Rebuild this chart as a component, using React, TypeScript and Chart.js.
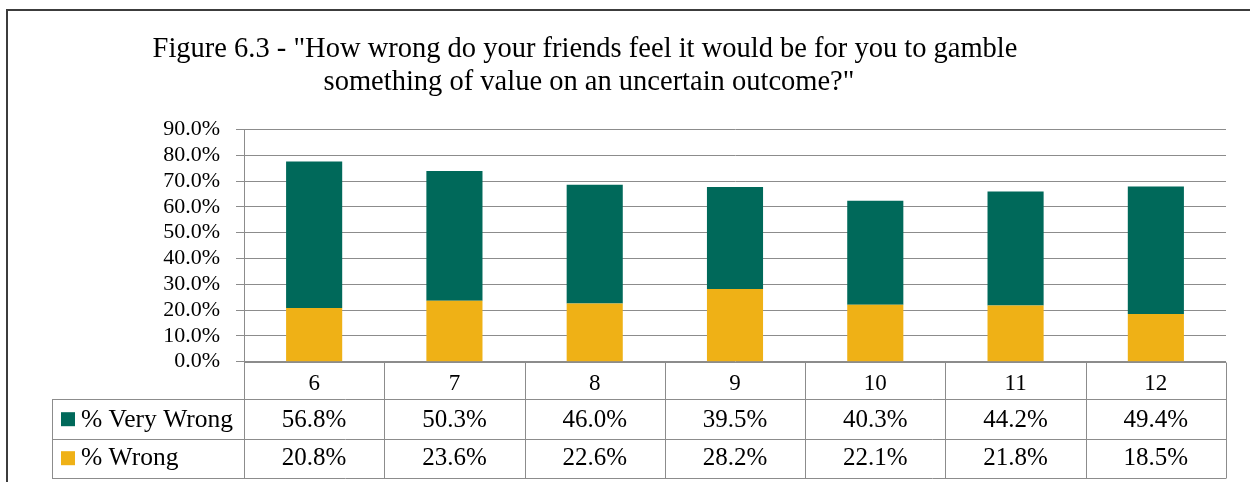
import React, { useEffect, useRef } from "react";
import { Chart, registerables } from "chart.js";

Chart.register(...registerables);

const categories = ["6", "7", "8", "9", "10", "11", "12"];
const veryWrong = [56.8, 50.3, 46.0, 39.5, 40.3, 44.2, 49.4];
const wrong = [20.8, 23.6, 22.6, 28.2, 22.1, 21.8, 18.5];
const seriesNames = ["% Very Wrong", "% Wrong"];
const titleLines = [
  'Figure 6.3 - "How wrong do your friends feel it would be for you to gamble',
  'something of value on an uncertain outcome?"',
];
const yMax = 90;
const yStep = 10;

const GREEN = "#00695A";
const GOLD = "#EFB116";
const GRID = "#8c8c8c";
const FONT = '"Liberation Serif", "Times New Roman", serif';

const fmt = (v: number) => v.toFixed(1) + "%";

const tablePlugin = {
  id: "dataTable",
  beforeDraw(chart: any) {
    const ctx = chart.ctx;
    ctx.save();
    ctx.fillStyle = "#ffffff";
    ctx.fillRect(0, 0, chart.width, chart.height);
    ctx.strokeStyle = "#3c3c3c";
    ctx.lineWidth = 2;
    ctx.beginPath();
    ctx.moveTo(7, chart.height);
    ctx.lineTo(7, 10);
    ctx.lineTo(chart.width, 10);
    ctx.stroke();
    ctx.fillStyle = "#000";
    ctx.font = "28.5px " + FONT;
    ctx.textAlign = "center";
    ctx.textBaseline = "alphabetic";
    ctx.fillText(titleLines[0], 585, 57);
    ctx.fillText(titleLines[1], 589, 90);
    ctx.restore();
  },
  afterDraw(chart: any) {
    const { ctx, chartArea, scales } = chart;
    const xs = scales.x;
    const n = categories.length;
    const colW = (chartArea.right - chartArea.left) / n;
    const top = chartArea.bottom;
    const rows = [top, top + 37.6, top + 77.3, top + 116];
    const legendLeft = 52;
    const al = (v: number) => Math.round(v) + 0.5;
    ctx.save();
    ctx.strokeStyle = GRID;
    ctx.lineWidth = 1;
    ctx.beginPath();
    ctx.moveTo(chartArea.left, al(rows[0]));
    ctx.lineTo(chartArea.right, al(rows[0]));
    for (let r = 1; r < 4; r++) {
      ctx.moveTo(legendLeft, al(rows[r]));
      ctx.lineTo(chartArea.right, al(rows[r]));
    }
    ctx.moveTo(al(legendLeft), al(rows[1]));
    ctx.lineTo(al(legendLeft), al(rows[3]));
    for (let i = 0; i <= n; i++) {
      const xx = xs.getPixelForValue(0) - colW / 2 + i * colW;
      ctx.moveTo(al(xx), al(rows[0]));
      ctx.lineTo(al(xx), al(rows[3]));
    }
    ctx.stroke();

    ctx.fillStyle = "#000";
    ctx.textAlign = "center";
    ctx.textBaseline = "alphabetic";
    ctx.font = "23px " + FONT;
    categories.forEach((c, i) => {
      ctx.fillText(c, xs.getPixelForValue(i), top + 28.5);
    });
    ctx.font = "25px " + FONT;
    veryWrong.forEach((v, i) => {
      ctx.fillText(fmt(v), xs.getPixelForValue(i), top + 65.5);
    });
    wrong.forEach((v, i) => {
      ctx.fillText(fmt(v), xs.getPixelForValue(i), top + 103.5);
    });
    // legend keys
    ctx.textAlign = "left";
    ctx.fillStyle = GREEN;
    ctx.fillRect(61, top + 50.5, 14, 14);
    ctx.fillStyle = GOLD;
    ctx.fillRect(61, top + 89.5, 14, 14);
    ctx.fillStyle = "#000";
    ctx.font = "25.5px " + FONT;
    ctx.fillText(seriesNames[0], 81, top + 65.5);
    ctx.fillText(seriesNames[1], 81, top + 103.5);
    ctx.restore();
  },
};

export default function App() {
  const ref = useRef<HTMLCanvasElement | null>(null);
  useEffect(() => {
    if (!ref.current) return;
    const chart = new Chart(ref.current, {
      type: "bar",
      data: {
        labels: categories,
        datasets: [
          {
            label: seriesNames[1],
            data: wrong,
            backgroundColor: GOLD,
            borderWidth: 0,
            barPercentage: 0.4,
            categoryPercentage: 1,
          },
          {
            label: seriesNames[0],
            data: veryWrong,
            backgroundColor: GREEN,
            borderWidth: 0,
            barPercentage: 0.4,
            categoryPercentage: 1,
          },
        ],
      },
      options: {
        responsive: false,
        maintainAspectRatio: false,
        animation: false,
        devicePixelRatio: 1,
        layout: { padding: { left: 0, right: 24, top: 129.5, bottom: 120.3 } },
        plugins: {
          legend: { display: false },
          tooltip: { enabled: false },
          title: { display: false },
        },
        scales: {
          x: {
            stacked: true,
            display: false,
            grid: { display: false },
          },
          y: {
            stacked: true,
            min: 0,
            max: yMax,
            afterFit: (s: any) => {
              s.width = 244;
            },
            ticks: {
              stepSize: yStep,
              autoSkip: false,
              padding: 16,
              color: "#000",
              font: { family: FONT, size: 22 },
              callback: (v: any) => Number(v).toFixed(1) + "%",
            },
            grid: {
              color: GRID,
              lineWidth: 1,
              tickLength: 8,
              drawTicks: true,
            },
            border: { display: true, color: GRID, width: 1 },
          },
        },
      },
      plugins: [tablePlugin],
    });
    return () => chart.destroy();
  }, []);
  return (
    <div style={{ position: "fixed", left: 0, top: 0, width: 1250, height: 482, background: "#fff" }}>
      <canvas ref={ref} width={1250} height={482} style={{ width: 1250, height: 482, display: "block" }} />
    </div>
  );
}
